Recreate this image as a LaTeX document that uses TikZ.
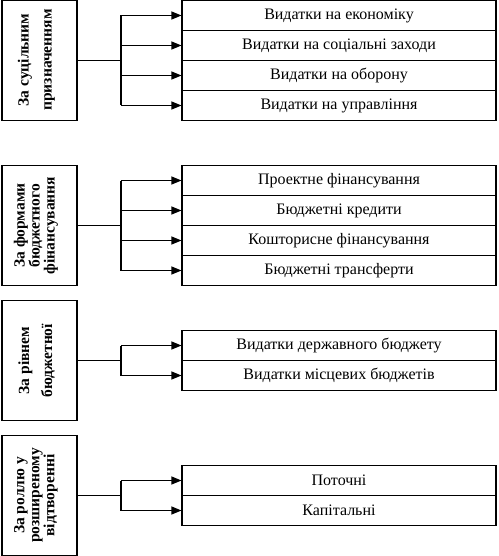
\documentclass[tikz,border=0pt]{standalone}
\usepackage{fontspec}
\setmainfont{Liberation Serif}
\usetikzlibrary{arrows.meta}
\begin{document}
\begin{tikzpicture}[x=1pt,y=-1pt,
  line width=1.1pt,
  catbox/.style={draw, minimum width=75pt, minimum height=120pt, inner sep=0pt},
  cattext/.style={rotate=90, align=center, font=\bfseries\fontsize{15.5}{15}\selectfont, inner sep=0pt},
  row/.style={draw, minimum width=314pt, minimum height=30pt, inner sep=0pt, font=\fontsize{16}{18}\selectfont},
  arr/.style={-{Triangle[length=10pt,width=8pt]}}
]
\useasboundingbox (0,0) rectangle (498,556);

% Group 1
\node[catbox] (g1) at (39.5,60.5) {};
\node[cattext] (t1) at (36.5,60) {За суцільним\\[8pt]призначенням};
\node[row] (r11) at (339,15.5) {Видатки на економіку};
\node[row] (r12) at (339,45.5) {Видатки на соціальні заходи};
\node[row] (r13) at (339,75.5) {Видатки на оборону};
\node[row] (r14) at (339,105.5) {Видатки на управління};
\coordinate (j1) at (121,60.5);
\draw (g1.east) -- (j1);
\draw (121,15.5) -- (121,105.5);
\draw[arr] (121,15.5) -- (r11.west);
\draw[arr] (121,45.5) -- (r12.west);
\draw[arr] (121,75.5) -- (r13.west);
\draw[arr] (121,105.5) -- (r14.west);

% Group 2
\node[catbox] (g2) at (39.5,225.5) {};
\node[cattext] (t2) at (36,225.5) {За формами\\бюджетного\\фінансування};
\node[row] (r21) at (339,180.5) {Проектне фінансування};
\node[row] (r22) at (339,210.5) {Бюджетні кредити};
\node[row] (r23) at (339,240.5) {Кошторисне фінансування};
\node[row] (r24) at (339,270.5) {Бюджетні трансферти};
\coordinate (j2) at (121,225.5);
\draw (g2.east) -- (j2);
\draw (121,180.5) -- (121,270.5);
\draw[arr] (121,180.5) -- (r21.west);
\draw[arr] (121,210.5) -- (r22.west);
\draw[arr] (121,240.5) -- (r23.west);
\draw[arr] (121,270.5) -- (r24.west);

% Group 3
\node[catbox] (g3) at (39.5,360.5) {};
\node[cattext] (t3) at (36.5,360.5) {За рівнем\\[8pt]бюджетної};
\node[row] (r31) at (339,345.5) {Видатки державного бюджету};
\node[row] (r32) at (339,375.5) {Видатки місцевих бюджетів};
\coordinate (j3) at (121,360.5);
\draw (g3.east) -- (j3);
\draw (121,345.5) -- (121,375.5);
\draw[arr] (121,345.5) -- (r31.west);
\draw[arr] (121,375.5) -- (r32.west);

% Group 4
\node[catbox] (g4) at (39.5,495.5) {};
\node[cattext] (t4) at (36,495.5) {За роллю у\\розширеному\\відтворенні};
\node[row] (r41) at (339,480.5) {Поточні};
\node[row] (r42) at (339,510.5) {Капітальні};
\coordinate (j4) at (121,495.5);
\draw (g4.east) -- (j4);
\draw (121,480.5) -- (121,510.5);
\draw[arr] (121,480.5) -- (r41.west);
\draw[arr] (121,510.5) -- (r42.west);
\end{tikzpicture}
\end{document}
